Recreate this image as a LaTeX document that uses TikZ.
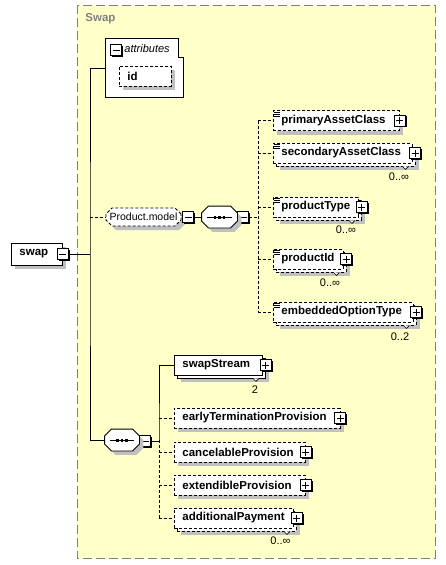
\documentclass[tikz,border=0pt]{standalone}
\usepackage{fontspec}
\setmainfont{Liberation Sans}
\usetikzlibrary{shapes.misc}
\definecolor{bgyellow}{HTML}{FFFFC8}
\definecolor{shadowgray}{HTML}{C0C0C0}
\definecolor{framegray}{HTML}{808080}
\tikzset{
  shad/.style={preaction={fill=shadowgray, draw=none, transform canvas={shift={(4pt,-4pt)}}}},
  elem/.style={draw, fill=white, shad, anchor=west, align=left, font=\fontsize{11.5}{13}\selectfont\bfseries, inner xsep=8pt, inner ysep=0pt, minimum height=20pt},
  opt/.style={dash pattern=on 3pt off 2pt},
  multi/.style={preaction={fill=shadowgray, draw=none, transform canvas={shift={(7pt,-7pt)}}}, preaction={fill=white, draw, transform canvas={shift={(3pt,-3pt)}}}},
  simple/.style={path picture={
      \fill[white] (path picture bounding box.north west) rectangle ++(8pt,-7pt);
      \foreach \k in {1.5,3.5,5.5}
        \draw[solid, line width=.6pt] ([shift={(1pt,-\k pt)}]path picture bounding box.north west) -- ++(6pt,0pt);}},
  pmbtn/.style={draw, fill=white, minimum size=11pt, inner sep=0pt, line width=.9pt, solid, preaction={fill=black, draw=none, transform canvas={shift={(1.2pt,-1.2pt)}}}},
  minusbtn/.style={pmbtn, path picture={
      \draw[line width=.9pt] ([xshift=2pt]path picture bounding box.west) -- ([xshift=-2pt]path picture bounding box.east);}},
  plusbtn/.style={pmbtn, path picture={
      \draw[line width=.9pt] ([xshift=2pt]path picture bounding box.west) -- ([xshift=-2pt]path picture bounding box.east);
      \draw[line width=.9pt] ([yshift=-2pt]path picture bounding box.north) -- ([yshift=2pt]path picture bounding box.south);}},
  group/.style={chamfered rectangle, chamfered rectangle xsep=3pt, chamfered rectangle ysep=3pt, draw, fill=white, shad, inner sep=0pt},
  seq/.style={inner sep=0pt, minimum height=21pt},
  occ/.style={font=\fontsize{11}{12}\selectfont, inner sep=0pt}
}

\begin{document}
\begin{tikzpicture}[x=1pt, y=-1pt, line width=0.9pt]
  \useasboundingbox (0,0) rectangle (446,565);
  % complex type area
  \fill[bgyellow] (77,5) rectangle (435,558);
  \draw[framegray, line width=1pt, dash pattern=on 9pt off 4pt] (77,5) rectangle (435,558);
  \node[anchor=west, inner sep=0pt, text=framegray, font=\fontsize{11.5}{13}\selectfont\bfseries] (title) at (85,19) {Swap};

  % attributes
  \draw[fill=white] (105,38) -- (178,38) -- (178,57) -- (183,57) -- (183,97) -- (105,97) -- cycle;
  \coordinate (attrW) at (105,68);
  \node[minusbtn] (attrM) at (116,50) {};
  \node[anchor=west, inner sep=0pt, font=\fontsize{11}{13}\selectfont\itshape] (attrT) at (124,49) {attributes};
  \node[elem, opt, text width=36pt] (id) at (119,76) {id};

  % root
  \node[elem, text width=35pt, minimum height=22pt] (swap) at (11,254) {swap};
  \node[minusbtn] (swapM) at (swap.east) {};
  \coordinate (j0) at (90,254);

  % Product.model group
  \node[group, opt, minimum width=75pt, minimum height=18pt, font=\fontsize{10.5}{12}\selectfont] (pm) at (143.5,217) {Product.model};
  \node[minusbtn, anchor=west] (pmM) at ([xshift=1pt]pm.east) {};
  \node[seq, minimum width=35pt] (seqA) at (219.5,217) {};
  \node[minusbtn, anchor=west] (seqAM) at (seqA.east) {};
  \coordinate (jA) at (258,217);

  \node[elem, opt, simple, text width=110pt] (pac) at (273,120.5) {primaryAssetClass};
  \node[plusbtn] (pacP) at (pac.east) {};
  \node[elem, opt, simple, multi, text width=122.5pt] (sac) at (273,153) {secondaryAssetClass};
  \node[plusbtn] (sacP) at ([xshift=3pt]sac.east) {};
  \node[occ] (sacO) at (399,177) {0..∞};
  \node[elem, opt, simple, multi, text width=69pt] (ptype) at (273,207) {productType};
  \node[plusbtn] (ptypeP) at ([xshift=3pt]ptype.east) {};
  \node[occ] (ptypeO) at (346,230) {0..∞};
  \node[elem, opt, simple, multi, text width=53.5pt] (pid) at (273,259) {productId};
  \node[plusbtn] (pidP) at ([xshift=3pt]pid.east) {};
  \node[occ] (pidO) at (330,283) {0..∞};
  \node[elem, opt, simple, multi, text width=123.5pt] (eot) at (273,312) {embeddedOptionType};
  \node[plusbtn] (eotP) at ([xshift=3pt]eot.east) {};
  \node[occ] (eotO) at (400,337) {0..2};

  % main sequence
  \node[seq, minimum width=34pt] (seqB) at (122,440) {};
  \node[minusbtn, anchor=west] (seqBM) at ([yshift=-1pt]seqB.east) {};
  \coordinate (jB) at (159,440);

  \node[elem, multi, text width=72pt] (ss) at (174,365) {swapStream};
  \node[plusbtn] (ssP) at ([xshift=3pt]ss.east) {};
  \node[occ] (ssO) at (255,390) {2};
  \node[elem, opt, text width=149.5pt] (etp) at (174,418) {earlyTerminationProvision};
  \node[plusbtn] (etpP) at (etp.east) {};
  \node[elem, opt, text width=115pt] (cp) at (174,452) {cancelableProvision};
  \node[plusbtn] (cpP) at (cp.east) {};
  \node[elem, opt, text width=115pt] (ep) at (174,485) {extendibleProvision};
  \node[plusbtn] (epP) at (ep.east) {};
  \node[elem, opt, multi, text width=103pt] (ap) at (174,518) {additionalPayment};
  \node[plusbtn] (apP) at ([xshift=3pt]ap.east) {};
  \node[occ] (apO) at (280.5,541) {0..∞};

  % occurrence notches
  \foreach \c in {sac,ptype,pid,eot,ss,ap}
    \draw[line width=.6pt, fill=white] ([shift={(-10pt,-3pt)}]\c.south east) -- ++(3pt,-3pt) -- ++(3pt,3pt);

  % sequence compositors
  \foreach \s in {seqA,seqB} {
    \draw[fill=white, shad] ([xshift=7pt]\s.north west) -- ([xshift=-7pt]\s.north east)
      -- ([yshift=-7pt]\s.north east) -- ([yshift=7pt]\s.south east)
      -- ([xshift=-7pt]\s.south east) -- ([xshift=7pt]\s.south west)
      -- ([yshift=7pt]\s.south west) -- ([yshift=-7pt]\s.north west) -- cycle;
    \draw ([xshift=5pt]\s.west) -- ([xshift=-5pt]\s.east);
    \foreach \d in {-4.5,0,4.5}
      \fill ([xshift=\d pt]\s.center) +(-1.4pt,-1.5pt) rectangle +(1.4pt,1.5pt);
  }

  % connectors
  \draw (swapM.east) -- (j0);
  \draw (attrW) -| (j0) |- (seqB.west);
  \draw[opt] (j0 |- pm.west) -- (pm.west);
  \draw (pmM.east) -- (seqA.west);
  \draw[opt] (seqAM.east) -- (jA);
  \draw[opt] (jA |- pac.west) -- (jA |- eot.west);
  \foreach \c in {pac,sac,ptype,pid,eot}
    \draw[opt] (jA |- \c.west) -- (\c.west);
  \draw (seqBM.east) -| (jB) |- (ss.west);
  \draw[opt] (jB) -- (jB |- ap.west);
  \foreach \c in {etp,cp,ep,ap}
    \draw[opt] (jB |- \c.west) -- (\c.west);
\end{tikzpicture}
\end{document}
